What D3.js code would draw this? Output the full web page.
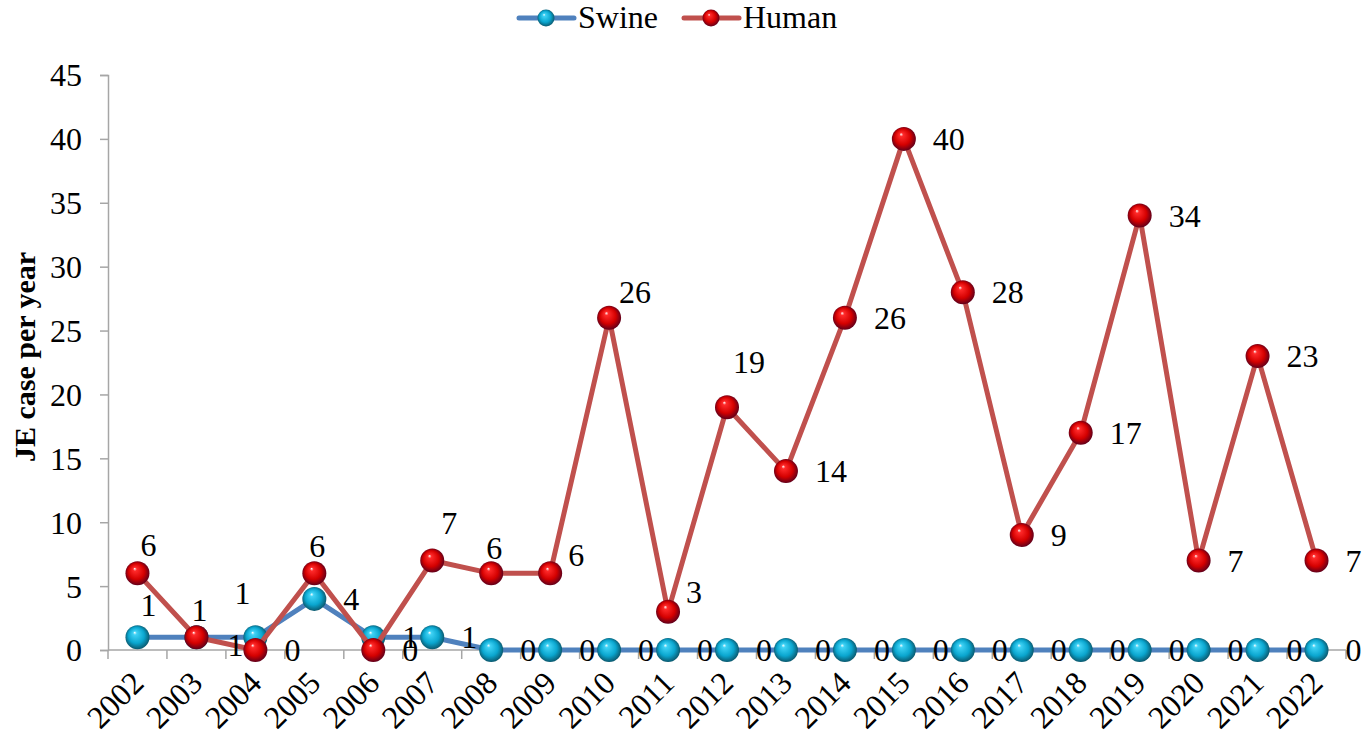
<!DOCTYPE html>
<html>
<head>
<meta charset="utf-8">
<script src="https://cdn.jsdelivr.net/npm/d3@7/dist/d3.min.js"></script>
<style>
  html, body { margin: 0; padding: 0; background: #fff; }
  svg { display: block; }
</style>
</head>
<body>
<svg id="chart" width="1366" height="738"></svg>
<script>
// Japanese encephalitis cases reported per year
const years = ["2002","2003","2004","2005","2006","2007","2008","2009","2010","2011","2012",
               "2013","2014","2015","2016","2017","2018","2019","2020","2021","2022"];
const swine = [1,1,1,4,1,1,0,0,0,0,0,0,0,0,0,0,0,0,0,0,0];
const human = [6,1,0,6,0,7,6,6,26,3,19,14,26,40,28,9,17,34,7,23,7];
const yTicks = [0,5,10,15,20,25,30,35,40,45];

const FONT = "Liberation Serif";
const svg = d3.select("#chart");
const plot = { left: 108, right: 1346, top: 75, bottom: 650 };

const x = d3.scaleBand().domain(years).range([plot.left, plot.right]).padding(0);
const cx = d => x(d) + x.bandwidth() / 2;
const y = d3.scaleLinear().domain([0, 45]).range([plot.bottom, plot.top]);

// Serif text helper
function txt(sel, size) {
  return sel.attr("font-family", FONT).style("font-family", FONT)
    .attr("font-size", size).attr("fill", "#000");
}

// Sphere-shaded marker gradients
const defs = svg.append("defs");
function sphere(id, light, mid, dark) {
  const g = defs.append("radialGradient")
    .attr("id", id).attr("cx", "50%").attr("cy", "50%").attr("r", "55%")
    .attr("fx", "38%").attr("fy", "30%");
  g.append("stop").attr("offset", "0%").attr("stop-color", "#ffffff");
  g.append("stop").attr("offset", "14%").attr("stop-color", light);
  g.append("stop").attr("offset", "60%").attr("stop-color", mid);
  g.append("stop").attr("offset", "100%").attr("stop-color", dark);
}
sphere("ballSwine", "#3fd2f5", "#0aa6cf", "#0b4a5c");
sphere("ballHuman", "#ff2a2a", "#d40000", "#4a0020");

// Y axis
const yAxis = d3.axisLeft(y).tickValues(yTicks).tickSize(8).tickPadding(18);
const gy = svg.append("g").attr("transform", `translate(${plot.left},0)`).call(yAxis);
gy.select(".domain").attr("stroke", "#a6a6a6").attr("stroke-width", 1.5);
gy.selectAll(".tick line").attr("stroke", "#a6a6a6").attr("stroke-width", 1.5);
txt(gy.selectAll(".tick text"), 32).attr("dy", "0.34em");

// X axis: ticks sit on category boundaries
const gx = svg.append("g").attr("transform", `translate(0,${plot.bottom})`);
gx.append("line").attr("x1", plot.left).attr("x2", plot.right)
  .attr("stroke", "#a6a6a6").attr("stroke-width", 1.5);
const bounds = years.map(d => x(d)).concat([plot.right]);
gx.selectAll("line.tk").data(bounds).join("line").attr("class", "tk")
  .attr("x1", d => d).attr("x2", d => d).attr("y1", 0).attr("y2", 9)
  .attr("stroke", "#a6a6a6").attr("stroke-width", 1.5);
txt(gx.selectAll("text.yr").data(years).join("text").attr("class", "yr"), 32)
  .attr("transform", d => `translate(${cx(d) + 8},${35}) rotate(-45)`)
  .attr("text-anchor", "end")
  .text(d => d);

// Y title
txt(svg.append("text"), 30)
  .attr("transform", `translate(35,357) rotate(-90)`)
  .attr("text-anchor", "middle")
  .attr("font-weight", "bold")
  .text("JE case per year");

// Series
const series = [
  { name: "Swine", values: swine, color: "#4f81bd", ball: "url(#ballSwine)" },
  { name: "Human", values: human, color: "#c0504d", ball: "url(#ballHuman)" }
];
const line = d3.line().x((d, i) => cx(years[i])).y(d => y(d));
const R = 12;

series.forEach(s => {
  const g = svg.append("g");
  g.append("path").datum(s.values).attr("d", line)
    .attr("fill", "none").attr("stroke", s.color).attr("stroke-width", 5)
    .attr("stroke-linejoin", "round");
  g.selectAll("circle").data(s.values).join("circle")
    .attr("cx", (d, i) => cx(years[i])).attr("cy", d => y(d)).attr("r", R)
    .attr("fill", s.ball);
});

// Data labels: placed right of the point unless nudged (centre offsets)
const nudgeSwine = { "2002": [11, -32], "2003": [3, -27], "2004": [-13, -44] };
const nudgeHuman = {
  "2002": [11, -28], "2003": [39, 8], "2005": [3, -27], "2007": [17, -38],
  "2008": [3, -25], "2009": [26, -18], "2010": [26, -26], "2011": [26, -20],
  "2012": [22, -45]
};
function labels(values, nudge) {
  const g = svg.append("g");
  values.forEach((v, i) => {
    const px = cx(years[i]), py = y(v);
    const t = txt(g.append("text"), 32).text(v);
    const n = nudge[years[i]];
    if (n) {
      t.attr("x", px + n[0]).attr("y", py + n[1] + 11).attr("text-anchor", "middle");
    } else {
      t.attr("x", px + 29).attr("y", py + 11).attr("text-anchor", "start");
    }
  });
}
labels(swine, nudgeSwine);
labels(human, nudgeHuman);

// Legend
const legend = svg.append("g");
const items = [
  { s: series[0], x0: 519 },
  { s: series[1], x0: 684 }
];
items.forEach(it => {
  legend.append("line").attr("x1", it.x0).attr("x2", it.x0 + 55)
    .attr("y1", 18).attr("y2", 18)
    .attr("stroke", it.s.color).attr("stroke-width", 5).attr("stroke-linecap", "round");
  legend.append("circle").attr("cx", it.x0 + 27).attr("cy", 18).attr("r", 8.5)
    .attr("fill", it.s.ball);
  txt(legend.append("text"), 32).attr("x", it.x0 + 59).attr("y", 28).text(it.s.name);
});
</script>
</body>
</html>
